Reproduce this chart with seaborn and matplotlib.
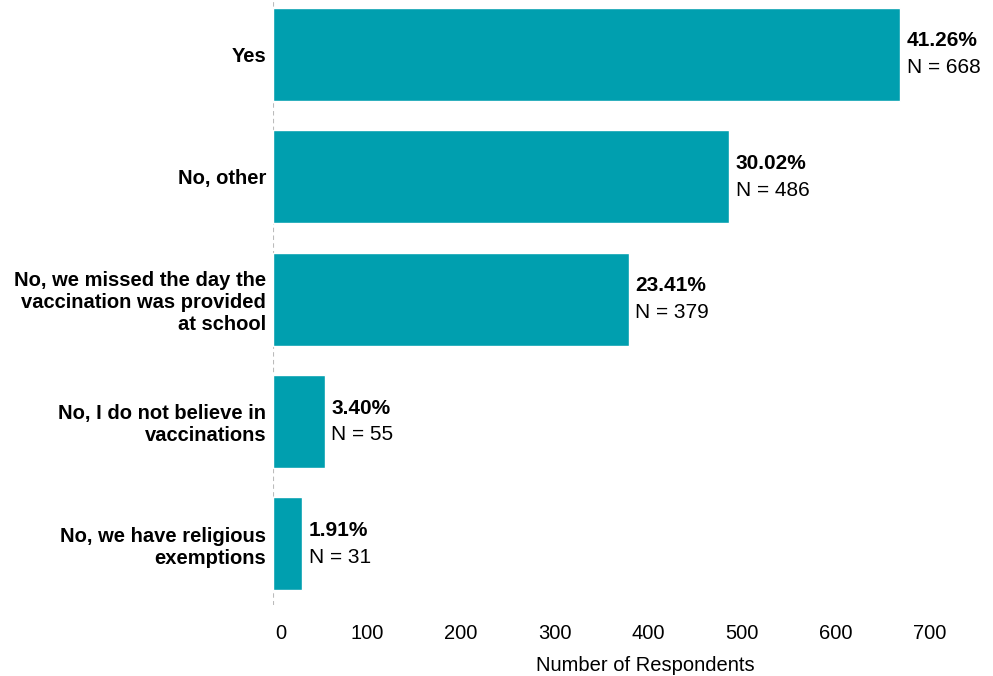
import seaborn as sns
import matplotlib.pyplot as plt
import matplotlib.transforms as mtransforms
import pandas as pd

categories = ["Yes", "No, other",
              "No, we missed the day the\nvaccination was provided\nat school",
              "No, I do not believe in\nvaccinations",
              "No, we have religious\nexemptions"]
counts = [668, 486, 379, 55, 31]
percents = ["41.26%", "30.02%", "23.41%", "3.40%", "1.91%"]

df = pd.DataFrame({"answer": categories, "n": counts})

sns.set_style("white")
plt.rcParams['font.family'] = ['Liberation Sans', 'DejaVu Sans']
plt.rcParams['text.color'] = 'black'
plt.rcParams['xtick.labelcolor'] = 'black'
plt.rcParams['ytick.labelcolor'] = 'black'
plt.rcParams['axes.labelcolor'] = 'black'

fig = plt.figure(figsize=(9.93, 6.76), dpi=100)
ax = fig.add_axes([0.275, 0.105, 0.69, 0.905])
sns.barplot(data=df, x="n", y="answer", color="#009FAF", width=0.76,
            saturation=1, ax=ax)

ax.set_xlim(0, 730)
ax.set_xticks(range(0, 800, 100))
ax.tick_params(axis="x", labelsize=14.5, length=6, color="#dddddd", pad=8)
ax.tick_params(axis="y", labelsize=14.5, length=0, pad=5)
for lbl in ax.get_yticklabels():
    lbl.set_fontweight("bold")
    lbl.set_horizontalalignment("right")
    lbl.set_multialignment("right")
# the "0" label sits a little right of its tick
first = ax.get_xticklabels()[0]
first.set_transform(first.get_transform() + mtransforms.ScaledTranslation(0.08, 0, fig.dpi_scale_trans))
ax.set_xlabel("Number of Respondents", fontsize=14.5, labelpad=9, x=0.543)
ax.set_ylabel("")
for s in ax.spines.values():
    s.set_visible(False)
ax.axvline(0, color="#bbbbbb", lw=0.8, ls=(0, (4, 3)), zorder=0)

for i, (n, p) in enumerate(zip(counts, percents)):
    ax.text(n + 7, i - 0.11, p, fontsize=15, fontweight="bold", va="center", ha="left")
    ax.text(n + 7, i + 0.11, f"N = {n}", fontsize=15, va="center", ha="left")

fig.savefig("out.png", dpi=100)
